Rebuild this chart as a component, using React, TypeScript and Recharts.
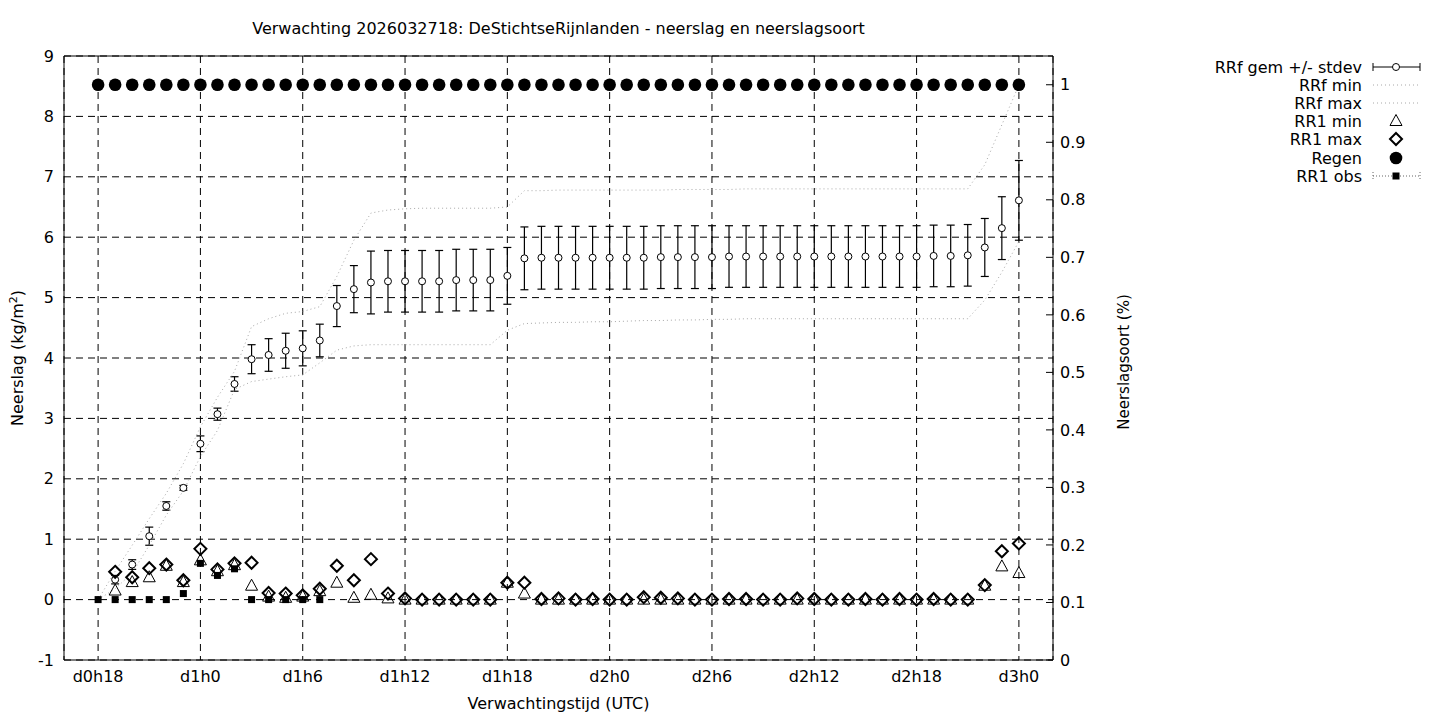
import React from "react";
import { ComposedChart, Line, XAxis, YAxis, CartesianGrid, ErrorBar, ReferenceLine } from "recharts";

// uren sinds d0h18
const uren = [
  0, 1, 2, 3, 4, 5, 6, 7, 8, 9, 10, 11, 12, 13, 14, 15, 16, 17, 18, 19, 20, 21, 22, 23, 24, 25, 26,
  27, 28, 29, 30, 31, 32, 33, 34, 35, 36, 37, 38, 39, 40, 41, 42, 43, 44, 45, 46, 47, 48, 49, 50,
  51, 52, 53, 54,
];
const tijdTicks = [0, 6, 12, 18, 24, 30, 36, 42, 48, 54];
const tijdLabels = ["d0h18", "d1h0", "d1h6", "d1h12", "d1h18", "d2h0", "d2h6", "d2h12", "d2h18", "d3h0"];

const rrfGem = [
  null, 0.33, 0.58, 1.05, 1.55, 1.85, 2.58, 3.07, 3.57, 3.98, 4.05, 4.12, 4.16, 4.29, 4.86, 5.14,
  5.25, 5.27, 5.27, 5.27, 5.27, 5.29, 5.29, 5.29, 5.36, 5.65, 5.66, 5.66, 5.66, 5.66, 5.66, 5.66,
  5.66, 5.67, 5.67, 5.67, 5.67, 5.68, 5.68, 5.68, 5.68, 5.68, 5.68, 5.68, 5.68, 5.68, 5.68, 5.68,
  5.68, 5.69, 5.69, 5.70, 5.83, 6.15, 6.61,
];
const rrfStdev = [
  null, 0.07, 0.08, 0.15, 0.07, 0.04, 0.13, 0.1, 0.12, 0.24, 0.27, 0.29, 0.29, 0.27, 0.34, 0.39,
  0.52, 0.51, 0.51, 0.51, 0.51, 0.51, 0.51, 0.51, 0.47, 0.52, 0.52, 0.52, 0.52, 0.52, 0.52, 0.52,
  0.52, 0.52, 0.52, 0.52, 0.52, 0.51, 0.51, 0.51, 0.51, 0.51, 0.51, 0.51, 0.51, 0.51, 0.51, 0.51,
  0.51, 0.51, 0.51, 0.51, 0.48, 0.52, 0.66,
];
const rrfMin = [
  0, 0.18, 0.44, 0.9, 1.4, 1.8, 2.37, 2.8, 3.48, 3.61, 3.65, 3.69, 3.72, 3.92, 4.13, 4.2, 4.22,
  4.22, 4.22, 4.22, 4.22, 4.22, 4.22, 4.22, 4.46, 4.57, 4.58, 4.59, 4.59, 4.6, 4.6, 4.61, 4.62,
  4.62, 4.63, 4.63, 4.64, 4.64, 4.65, 4.65, 4.65, 4.65, 4.65, 4.65, 4.65, 4.65, 4.65, 4.65, 4.65,
  4.65, 4.65, 4.65, 4.96, 5.42, 5.93,
];
const rrfMax = [
  0, 0.47, 0.9, 1.34, 1.76, 2.25, 2.86, 3.35, 3.78, 4.52, 4.65, 4.74, 4.77, 4.85, 5.35, 5.95, 6.4,
  6.45, 6.47, 6.48, 6.48, 6.48, 6.48, 6.48, 6.5, 6.77, 6.77, 6.78, 6.78, 6.78, 6.78, 6.78, 6.78,
  6.78, 6.79, 6.79, 6.79, 6.79, 6.8, 6.8, 6.8, 6.8, 6.8, 6.8, 6.8, 6.8, 6.8, 6.8, 6.8, 6.8, 6.8,
  6.8, 7.2, 7.86, 8.52,
];
const rr1Min = [
  null, 0.15, 0.29, 0.37, 0.56, 0.29, 0.65, 0.47, 0.57, 0.23, 0.05, 0.03, 0.05, 0.14, 0.28, 0.03,
  0.08, 0.02, 0, 0, 0, 0, 0, 0, 0.28, 0.1, 0, 0, 0, 0, 0, 0, 0, 0, 0, 0, 0, 0, 0, 0, 0, 0, 0, 0, 0,
  0, 0, 0, 0, 0, 0, 0, 0.23, 0.55, 0.44,
];
const rr1Max = [
  null, 0.46, 0.37, 0.52, 0.58, 0.32, 0.84, 0.5, 0.6, 0.61, 0.11, 0.1, 0.07, 0.18, 0.56, 0.32,
  0.67, 0.1, 0.02, 0, 0, 0, 0, 0, 0.28, 0.28, 0.01, 0.02, 0, 0.01, 0, 0, 0.04, 0.03, 0.02, 0, 0,
  0.01, 0.01, 0, 0, 0.02, 0.01, 0, 0, 0.01, 0, 0.01, 0, 0.01, 0, 0, 0.24, 0.8, 0.93,
];
const regen = [
  1, 1, 1, 1, 1, 1, 1, 1, 1, 1, 1, 1, 1, 1, 1, 1, 1, 1, 1, 1, 1, 1, 1, 1, 1, 1, 1, 1, 1, 1, 1, 1,
  1, 1, 1, 1, 1, 1, 1, 1, 1, 1, 1, 1, 1, 1, 1, 1, 1, 1, 1, 1, 1, 1, 1,
];
const rr1Obs = [
  0, 0, 0, 0, 0, 0.1, 0.6, 0.4, 0.51, 0, 0, 0, 0, 0, null, null, null, null, null, null, null, null,
  null, null, null, null, null, null, null, null, null, null, null, null, null, null, null, null,
  null, null, null, null, null, null, null, null, null, null, null, null, null, null, null, null, null,
];

const yLinksTicks = [-1, 0, 1, 2, 3, 4, 5, 6, 7, 8, 9];
const yRechtsTicks = [0, 0.1, 0.2, 0.3, 0.4, 0.5, 0.6, 0.7, 0.8, 0.9, 1];

const data = uren.map((t, i) => ({
  t,
  gem: rrfGem[i],
  sd: rrfStdev[i],
  min: rrfMin[i],
  max: rrfMax[i],
  rr1min: rr1Min[i],
  rr1max: rr1Max[i],
  regen: regen[i],
  obs: rr1Obs[i],
}));

const FONT = "DejaVu Sans, sans-serif";
const FS = 16;
const GRIJS = "#a8a8a8";

const leeg = (p: any) => p.value == null || p.cy == null || isNaN(p.cy);

const Cirkel = (p: any) =>
  leeg(p) ? <g key={p.key} /> : <circle key={p.key} cx={p.cx} cy={p.cy} r={3.5} fill="#fff" stroke="#000" strokeWidth={1} />;

const Driehoek = (p: any) =>
  leeg(p) ? (
    <g key={p.key} />
  ) : (
    <path
      key={p.key}
      d={`M${p.cx},${p.cy - 6.5}L${p.cx + 6},${p.cy + 4.5}L${p.cx - 6},${p.cy + 4.5}Z`}
      fill="none"
      stroke="#000"
      strokeWidth={1}
    />
  );

const Ruit = (p: any) =>
  leeg(p) ? (
    <g key={p.key} />
  ) : (
    <path
      key={p.key}
      d={`M${p.cx},${p.cy - 6}L${p.cx + 6},${p.cy}L${p.cx},${p.cy + 6}L${p.cx - 6},${p.cy}Z`}
      fill="none"
      stroke="#000"
      strokeWidth={2}
    />
  );

const Bol = (p: any) =>
  leeg(p) ? <g key={p.key} /> : <circle key={p.key} cx={p.cx} cy={p.cy} r={6.3} fill="#000" />;

const Blokje = (p: any) =>
  leeg(p) ? <g key={p.key} /> : <rect key={p.key} x={p.cx - 3.5} y={p.cy - 3.5} width={7} height={7} fill="#000" />;

// legenda rechtsboven
const legendaItems = ["RRf gem +/- stdev", "RRf min", "RRf max", "RR1 min", "RR1 max", "Regen", "RR1 obs"];
const legendaY = [59, 77, 95, 113, 131, 150, 168];

function Legenda() {
  const tx = 1354;
  const sx = 1388;
  return (
    <svg width={1424} height={704} style={{ position: "absolute", left: 0, top: 0, pointerEvents: "none" }}>
      {legendaItems.map((naam, i) => (
        <text key={naam} x={tx} y={legendaY[i]} textAnchor="end" dominantBaseline="central" fontSize={FS} fontFamily={FONT} fill="#000">
          {naam}
        </text>
      ))}
      <g stroke="#000" strokeWidth={1}>
        <line x1={1365} x2={1412} y1={legendaY[0]} y2={legendaY[0]} />
        <line x1={1365} x2={1365} y1={legendaY[0] - 4} y2={legendaY[0] + 4} />
        <line x1={1412} x2={1412} y1={legendaY[0] - 4} y2={legendaY[0] + 4} />
      </g>
      <circle cx={sx} cy={legendaY[0]} r={3.5} fill="#fff" stroke="#000" />
      <line x1={1365} x2={1412} y1={legendaY[1]} y2={legendaY[1]} stroke={GRIJS} strokeDasharray="1 3" />
      <line x1={1365} x2={1412} y1={legendaY[2]} y2={legendaY[2]} stroke={GRIJS} strokeDasharray="1 3" />
      <Driehoek cx={sx} cy={legendaY[3]} value={1} />
      <Ruit cx={sx} cy={legendaY[4]} value={1} />
      <Bol cx={sx} cy={legendaY[5]} value={1} />
      <line x1={1365} x2={1412} y1={legendaY[6]} y2={legendaY[6]} stroke="#666" strokeDasharray="1 2" />
      <line x1={1365} x2={1365} y1={legendaY[6] - 4} y2={legendaY[6] + 4} stroke="#666" strokeDasharray="1 2" />
      <line x1={1412} x2={1412} y1={legendaY[6] - 4} y2={legendaY[6] + 4} stroke="#666" strokeDasharray="1 2" />
      <Blokje cx={sx} cy={legendaY[6]} value={1} />
    </svg>
  );
}

export default function App() {
  const tickStijl = { fill: "#000", fontSize: FS, fontFamily: FONT };
  return (
    <div style={{ position: "relative", width: 1424, height: 704, fontFamily: FONT, color: "#000" }}>
      <ComposedChart width={1424} height={704} data={data} margin={{ top: 48, right: 299, bottom: 22, left: 0 }}>
        <CartesianGrid stroke="#000" strokeDasharray="7 5" strokeWidth={1} />
        <XAxis
          dataKey="t"
          type="number"
          domain={[-2, 56]}
          allowDataOverflow
          ticks={tijdTicks}
          tickFormatter={(v: number) => tijdLabels[tijdTicks.indexOf(v)]}
          tick={tickStijl}
          tickLine={false}
          tickSize={0}
          tickMargin={11}
          height={30}
          axisLine={{ stroke: "#000" }}
        />
        <YAxis
          type="number"
          domain={[-1, 9]}
          allowDataOverflow
          ticks={yLinksTicks}
          tick={tickStijl}
          tickLine={false}
          tickSize={0}
          tickMargin={10}
          width={56}
          axisLine={{ stroke: "#000" }}
        />
        <YAxis
          yAxisId="rechts"
          orientation="right"
          type="number"
          domain={[0, 1.05]}
          allowDataOverflow
          ticks={yRechtsTicks}
          tickFormatter={(v: number) => String(v)}
          tick={tickStijl}
          tickLine={{ stroke: "#000" }}
          tickSize={-7}
          tickMargin={14}
          width={80}
          axisLine={{ stroke: "#000" }}
        />
        <ReferenceLine y={9} stroke="#000" strokeWidth={1} />
        <Line dataKey="gem" stroke="none" dot={Cirkel} activeDot={false} isAnimationActive={false} legendType="none">
          <ErrorBar dataKey="sd" direction="y" width={4} stroke="#000" strokeWidth={1.2} />
        </Line>
        <Line dataKey="min" type="linear" stroke={GRIJS} strokeDasharray="1 3" strokeWidth={1} dot={false} activeDot={false} isAnimationActive={false} />
        <Line dataKey="max" type="linear" stroke={GRIJS} strokeDasharray="1 3" strokeWidth={1} dot={false} activeDot={false} isAnimationActive={false} />
        <Line dataKey="rr1min" stroke="none" dot={Driehoek} activeDot={false} isAnimationActive={false} />
        <Line dataKey="rr1max" stroke="none" dot={Ruit} activeDot={false} isAnimationActive={false} />
        <Line dataKey="regen" yAxisId="rechts" stroke="none" dot={Bol} activeDot={false} isAnimationActive={false} />
        <Line dataKey="obs" stroke="none" dot={Blokje} activeDot={false} isAnimationActive={false} />
      </ComposedChart>

      <div style={{ position: "absolute", left: 0, width: 1101, top: 12, textAlign: "center", fontSize: FS, lineHeight: "18px" }}>
        Verwachting 2026032718: DeStichtseRijnlanden - neerslag en neerslagsoort
      </div>
      <div style={{ position: "absolute", left: 0, width: 1101, top: 687, textAlign: "center", fontSize: FS, lineHeight: "18px" }}>
        Verwachtingstijd (UTC)
      </div>
      <div
        style={{
          position: "absolute",
          left: 10,
          top: 350,
          transform: "translate(-50%, -50%) rotate(-90deg)",
          whiteSpace: "nowrap",
          fontSize: FS,
          lineHeight: "18px",
        }}
      >
        Neerslag (kg/m<sup style={{ fontSize: 11, lineHeight: 0 }}>2</sup>)
      </div>
      <div
        style={{
          position: "absolute",
          left: 1116,
          top: 354,
          transform: "translate(-50%, -50%) rotate(-90deg)",
          whiteSpace: "nowrap",
          fontSize: 15,
          lineHeight: "18px",
        }}
      >
        Neerslagsoort (%)
      </div>
      <Legenda />
    </div>
  );
}
